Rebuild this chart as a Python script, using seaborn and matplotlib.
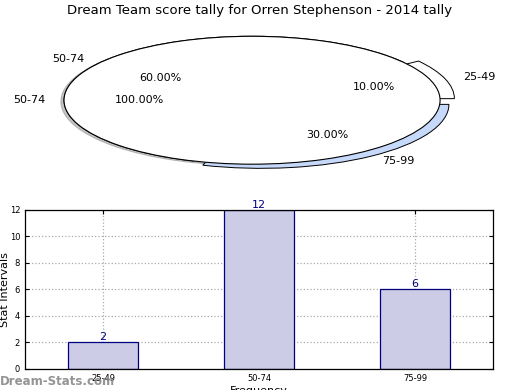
import matplotlib
matplotlib.use("Agg")
import matplotlib.pyplot as plt
import seaborn as sns
import pandas as pd

sns.set_style("white")
plt.rcParams['font.family'] = ['DejaVu Sans']
plt.rcParams['text.color'] = 'black'
plt.rcParams['axes.labelcolor'] = 'black'
plt.rcParams['xtick.color'] = 'black'
plt.rcParams['ytick.color'] = 'black'

title = "Dream Team score tally for Orren Stephenson - 2014 tally"
categories = ["25-49", "50-74", "75-99"]
counts = [2, 12, 6]
pie_labels = ["25-49", "50-74", "75-99"]
pie_shares = [10, 60, 30]
pie_colors = ["white", "white", "#c6d9fb"]
pie_explode = [0.08, 0.0, 0.08]
full_label = ["50-74"]
full_share = [100]

fig = plt.figure(figsize=(5.2, 3.9), dpi=100)

# --- top pie ---
axp = fig.add_axes([0.0327, 0.538, 0.904, 0.41])
axp.pie(pie_shares, labels=pie_labels, colors=pie_colors, autopct="%1.2f%%",
        explode=pie_explode, startangle=0,
        wedgeprops=dict(edgecolor="black", linewidth=0.7),
        textprops=dict(fontsize=8, color="black"))
axp.pie(full_share, labels=full_label, colors=["white"], autopct="%1.2f%%",
        shadow=dict(ox=-0.012, oy=-0.015, shade=0.5, alpha=0.45), startangle=0,
        wedgeprops=dict(edgecolor="black", linewidth=0.8),
        textprops=dict(fontsize=8, color="black"))
axp.set_aspect("auto")
axp.set_xlim(-1.25, 1.25)
axp.set_ylim(-1.25, 1.25)
axp.axis("off")
fig.text(0.5, 0.972, title, ha="center", va="center", fontsize=9.5)

# --- bottom bars ---
df = pd.DataFrame({"cat": categories, "val": counts})
axb = fig.add_axes([0.048, 0.054, 0.9, 0.408])
sns.barplot(data=df, x="cat", y="val", ax=axb, color="#cccce6", saturation=1,
            edgecolor="#000080", linewidth=0.9, width=0.45, zorder=2)
axb.set_xlim(-0.5, 2.5)
axb.set_ylim(0, 12)
axb.set_yticks(range(0, 13, 2))
axb.grid(True, linestyle=":", color="#aaaaaa", linewidth=0.9, zorder=0)
axb.set_axisbelow(True)
for s in axb.spines.values():
    s.set_visible(True)
    s.set_color("black")
    s.set_linewidth(0.9)
axb.tick_params(axis="both", labelsize=6, direction="in", length=3,
                top=True, right=True, bottom=True, left=True)
axb.set_ylabel("Stat Intervals", fontsize=8)
axb.yaxis.set_label_coords(-0.031, 0.5)
axb.set_xlabel("Frequency", fontsize=8, labelpad=2)
for i, v in enumerate(counts):
    axb.text(i, v, str(v), ha="center", va="bottom", fontsize=8, color="#000080")

fig.text(0.0, 0.022, "Dream-Stats.com", fontsize=8.5, color="#888888",
         fontweight="bold", ha="left", va="center", alpha=0.9)

fig.savefig("out.png", dpi=100)
